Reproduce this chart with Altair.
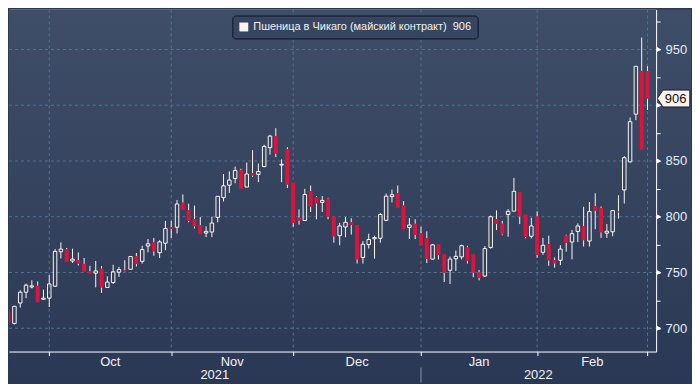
import altair as alt
import pandas as pd

# ---- data (one candle per trading day) ----
opens = [715, 704.3, 722.6, 732.3, 737, 738, 726, 727, 737.7, 768.6,
         771, 760.3, 761, 757.7, 751, 749.4, 753.4, 736.6, 741, 750.3,
         752.3, 752.9, 764.5, 760, 773.7, 777, 767.7, 776.3, 790.6, 790.6,
         812.6, 805.7, 798, 792.6, 785.4, 786.3, 799.4, 817.1, 828.3, 834.3,
         842, 826.6, 839.1, 838, 845, 862, 872.3, 846.3, 860.6, 830.6,
         799.1, 796.6, 822.9, 817.7, 812.9, 816.3, 800.3, 783, 790.8, 795,
         792.5, 763.5, 775, 780.2, 780.7, 796.8, 818, 821.1, 810, 790.3,
         793.7, 785.1, 780.8, 762, 775.4, 766.3, 752, 762.3, 764, 772.3,
         766.3, 750, 746.8, 772.5, 797.7, 793.7, 802, 805, 822, 802,
         782.5, 800.3, 768.1, 775.3, 761.2, 761, 783, 777.3, 786.8, 791.7,
         778.2, 809.5, 807.8, 785.3, 786.5, 804.6, 824, 849.2, 892, 930.8,
         930.8]
highs = [717, 720, 734, 740, 743, 742, 734.6, 747.7, 771, 777,
         772, 771.4, 768, 763, 756, 760.3, 755.7, 746.6, 756.9, 755,
         761, 764.3, 767.5, 774, 780, 781, 779, 796.3, 796.3, 815,
         820, 811.7, 810, 799.7, 791.4, 800, 818.3, 838.3, 840.6, 845,
         843, 848.6, 859.7, 847.7, 864.6, 873.4, 879.4, 851.4, 862.3, 830.6,
         806.6, 825, 828, 818.6, 818.6, 817, 800.3, 794.5, 799.7, 798.6,
         792.5, 778.2, 784.8, 783, 803.2, 820.7, 824.3, 828, 814, 798.8,
         797.7, 791, 786.8, 775.6, 775.4, 766.3, 764.3, 769.7, 775, 774,
         766.3, 752.3, 773.7, 801, 805.7, 796.3, 806.8, 834.8, 822, 802,
         799, 804.9, 781, 783, 763.5, 774.4, 783.9, 788.2, 794, 808.9,
         813.2, 821, 809.2, 793.4, 806, 819.3, 854.3, 889, 935, 960.7,
         935]
lows = [703, 703.4, 718.6, 727, 735.7, 723.4, 725.4, 719, 737, 762.6,
        759.7, 758.6, 756.3, 750.6, 749, 736.6, 731.7, 736.6, 739.7, 746,
        751, 752.9, 755.4, 758, 768, 765, 763, 770, 781, 785,
        806.3, 795, 789.4, 784.3, 781.7, 781.7, 795, 813.7, 821.4, 830,
        825, 826.6, 835.7, 831, 844.3, 855.7, 853.4, 831, 825.7, 791,
        793, 796.6, 804.3, 797.7, 804.3, 797.7, 776.7, 774.4, 781.6, 784,
        758, 758, 771.6, 762.4, 776.7, 796, 812.8, 808, 788.5, 780,
        780, 774.3, 758.5, 761.7, 761.7, 741.4, 739.7, 751.4, 761.7, 758,
        745.7, 743, 746, 771.4, 788, 783.4, 782, 805, 793.4, 780.5,
        780.5, 763.2, 765.8, 756, 754.3, 756.6, 768.7, 761.8, 777.3, 773.3,
        773.3, 788.8, 781, 781, 782.5, 798.3, 811.8, 848.6, 886.6, 860,
        895.7]
closes = [705, 719.7, 732.3, 738.6, 738, 723.4, 727, 739.7, 768.9, 771,
          759.7, 762, 758, 750.6, 749, 751.4, 736.6, 741.4, 750.6, 752.6,
          751.7, 764.3, 757.5, 770.5, 775.7, 769, 777.4, 789.4, 789, 811.4,
          806.3, 796.3, 791.4, 784.3, 786.9, 794.3, 818.3, 827.7, 832.9, 841.4,
          825, 838.3, 837, 840.6, 863, 872.3, 856.6, 847, 829, 794.3,
          796.6, 820, 809.1, 812, 814.6, 800, 782.5, 791.7, 795, 792.5,
          761.8, 775.3, 779.6, 781.3, 802, 818.4, 819.7, 808, 788.5, 792.6,
          783.7, 774.3, 762.3, 774.8, 765.7, 750, 762, 764.5, 774, 760.5,
          750, 745.1, 771.4, 800, 793.7, 784.3, 804.8, 822.8, 800.3, 781.9,
          791.7, 765.8, 774.4, 760.9, 758.3, 771, 776.7, 784.8, 791.7, 779,
          804.6, 805.5, 786, 787, 805.5, 804, 852.9, 885.2, 934.9, 860,
          906]

month_ticks = [7, 28, 49, 71, 91, 110]          # first trading day of each month
month_labels = ["Oct", "Nov", "Dec", "Jan", "Feb"]
month_mid = [17.5, 38.5, 60, 81, 100.5]
year_labels = ["2021", "2022"]
year_mid = [35.5, 91.2]
year_break = [71]
grid_values = [700, 750, 800, 850, 900, 950]
tick_values = [700, 725, 750, 775, 800, 825, 850, 875, 900, 925, 950, 975]
last_close = [906]
series_name = "Пшеница в Чикаго (майский контракт)\u00a0\u00a0906"

# ---- layout (whole chart kept to 684 x 374 so the page does not overflow) ----
W, H = 649, 343
FONT = "Liberation Sans, Arial, sans-serif"
RED = "#dc143c"
WHITE = "#faf5f0"
GRID = "#55718f"

candles = pd.DataFrame({"i": list(range(len(opens))), "o": opens, "h": highs,
                        "l": lows, "c": closes})

xs = alt.Scale(domain=[0.067, 111.48], nice=False, zero=False)
ys = alt.Scale(domain=[679.1, 985.8], nice=False, zero=False)

x_axis = alt.Axis(values=month_ticks, labels=False, grid=False, tickSize=4,
                  tickColor="white", domainColor="white", zindex=1, title=None)
y_axis = alt.Axis(orient="right", values=tick_values, grid=False, tickSize=4,
                  tickColor="white", domainColor="white", labelPadding=5, zindex=1,
                  labelExpr="(datum.value % 50 == 0 && datum.value != 900) ? datum.label : ''",
                  labelColor="#e3eaf5", labelFont=FONT, labelFontSize=13, title=None)

X = alt.X("i:Q", scale=xs, axis=x_axis)
Y = alt.Y("v:Q", scale=ys, axis=y_axis)

gradient = alt.LinearGradient(
    gradient="linear",
    stops=[alt.GradientStop(color="#3f4e68", offset=0),
           alt.GradientStop(color="#2b3855", offset=1)],
    x1=0, x2=0, y1=0, y2=1)

bg = alt.Chart(pd.DataFrame({"a": [0]})).mark_rect(fill=gradient).encode(
    x=alt.value(0), x2=alt.value(W + 35), y=alt.value(0), y2=alt.value(H + 31))

hgrid = alt.Chart(pd.DataFrame({"v": grid_values})).mark_rule(
    color=GRID, strokeDash=[3, 3], strokeWidth=1).encode(
    y=Y, x=alt.value(0), x2=alt.value(W))

vgrid = alt.Chart(pd.DataFrame({"i": month_ticks})).mark_rule(
    color=GRID, strokeDash=[3, 3], strokeWidth=1).encode(
    x=X, y=alt.value(0), y2=alt.value(H))

base = alt.Chart(candles).transform_calculate(
    top="max(datum.o, datum.c)", bot="min(datum.o, datum.c)",
    xa="datum.i - 0.34", xb="datum.i + 0.34",
    xwa="datum.i - 0.30", xwb="datum.i + 0.30")

wick_up = base.mark_rule(color=WHITE, strokeWidth=1, clip=True).encode(
    x=X, y=alt.Y("top:Q", scale=ys, axis=y_axis), y2="h:Q")
wick_dn = base.mark_rule(color=WHITE, strokeWidth=1, clip=True).encode(
    x=X, y=alt.Y("l:Q", scale=ys, axis=y_axis), y2="bot:Q")

red_bodies = base.transform_filter("datum.c < datum.o").mark_rect(
    fill=RED, clip=True).encode(
    x=alt.X("xa:Q", scale=xs, axis=x_axis), x2="xb:Q",
    y=alt.Y("o:Q", scale=ys, axis=y_axis), y2="c:Q")

white_bodies = base.transform_filter("datum.c >= datum.o").mark_rect(
    fill="transparent", stroke=WHITE, strokeWidth=1, clip=True).encode(
    x=alt.X("xwa:Q", scale=xs, axis=x_axis), x2="xwb:Q",
    y=alt.Y("o:Q", scale=ys, axis=y_axis), y2="c:Q")

tri = alt.Chart(pd.DataFrame({"v": grid_values})).mark_point(
    shape="triangle-right", filled=True, color="white", size=26, opacity=1).encode(
    y=Y, x=alt.value(W + 3))

tag_shape = "M -1 0 L -0.65 -0.52 L 1 -0.52 L 1 0.52 L -0.65 0.52 Z"
tag = alt.Chart(pd.DataFrame({"v": last_close, "name": [series_name]})).mark_point(
    shape=tag_shape, filled=True, size=1060, stroke="#1b1f2a", strokeWidth=1,
    opacity=1, fillOpacity=1).encode(
    y=Y, x=alt.value(W + 17.5),
    color=alt.Color("name:N", scale=alt.Scale(range=["#fdf2ec"]),
                    legend=alt.Legend(orient="none", legendX=224, legendY=6,
                                      title=None, fillColor="#364661",
                                      strokeColor="#0e1422", cornerRadius=3,
                                      padding=6, symbolType="square",
                                      symbolSize=80, symbolStrokeWidth=0,
                                      symbolOpacity=1,
                                      labelColor="#f2f2f2", labelFont=FONT,
                                      labelFontSize=11, labelLimit=400)))

tag_text = alt.Chart(pd.DataFrame({"v": last_close, "t": ["906"]})).mark_text(
    font=FONT, fontSize=13, color="#111111", align="center", baseline="middle").encode(
    y=Y, x=alt.value(W + 19.5), text="t:N")

months = alt.Chart(pd.DataFrame({"i": month_mid, "t": month_labels})).mark_text(
    font=FONT, fontSize=13, color="#f0f2f6", align="center", baseline="middle").encode(
    x=X, y=alt.value(H + 10), text="t:N")

years = alt.Chart(pd.DataFrame({"i": year_mid, "t": year_labels})).mark_text(
    font=FONT, fontSize=13, color="#f0f2f6", align="center", baseline="middle").encode(
    x=X, y=alt.value(H + 24), text="t:N")

ysep = alt.Chart(pd.DataFrame({"i": year_break})).mark_rule(
    color="#8a94a8", strokeWidth=1).encode(
    x=X, y=alt.value(H + 16), y2=alt.value(H + 31))

chart = alt.layer(
    bg, hgrid, vgrid, wick_up, wick_dn, red_bodies, white_bodies,
    tri, tag, tag_text, months, years, ysep
).properties(width=W, height=H, padding=0).configure_view(
    strokeWidth=0).configure(background="#2b3855")

chart.save("out.html", embed_options={"renderer": "svg", "actions": False})
